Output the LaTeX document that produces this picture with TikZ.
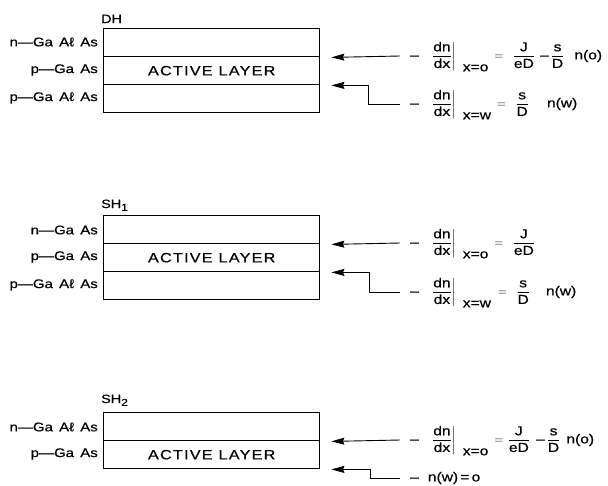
\documentclass[tikz,border=0pt]{standalone}
\usepackage{amsmath}
\usepackage{fontspec}
\setmainfont{Liberation Sans}
\newfontfamily\wide[FakeStretch=1.2,FakeBold=0.6]{Liberation Sans}
\newfontfamily\widelab[FakeStretch=1.2,FakeBold=0.6,WordSpace=1.5]{Liberation Sans}
\newfontfamily\widesp[FakeStretch=1.2,FakeBold=0.6,LetterSpace=9]{Liberation Sans}
\usetikzlibrary{arrows.meta,calc}
\newcommand\fr[2]{\genfrac{}{}{0.6pt}{0}{\mbox{#1\vphantom{dJ}}}{\mbox{#2\vphantom{dD}}}}
\newcommand\mn{\mbox{–}}
\newcommand\dndx[1]{\mn\hspace{10pt}\left.\fr{dn}{dx}\right|_{\hspace{7pt}\mbox{#1}}}
\begin{document}
\begin{tikzpicture}[x=1pt,y=-1pt,
  layer/.style={draw, line width=1.4pt, minimum width=216pt, minimum height=28pt, inner sep=0pt, anchor=north west},
  lab/.style={anchor=east, inner sep=0pt, font=\widelab\fontsize{12.5}{14}\selectfont},
  ttl/.style={anchor=base west, inner sep=0pt, font=\wide\fontsize{12}{14}\selectfont},
  act/.style={font=\widesp\fontsize{13.5}{15}\selectfont},
  eq/.style={anchor=base west, inner sep=0pt, font=\wide\fontsize{13}{15}\selectfont},
  arr/.style={-{Stealth[length=13pt,width=7pt,inset=1.5pt]}, line width=0.9pt}]
\useasboundingbox (0,0) rectangle (608,485);

% ---------- DH ----------
\node[ttl] (DHt) at (101,23) {DH};
\node[layer] (DHa) at (103,28) {};
\node[layer] (DHb) at (103,56) {};
\node[layer] (DHc) at (103,84) {};
\node[act] (DHact) at (DHb.center) {ACTIVE\hspace{6pt}LAYER};
\node[lab] (DHla) at (98,42) {n—Ga Aℓ As};
\node[lab] (DHlb) at (98,70) {p—Ga As};
\node[lab] (DHlc) at (98,98) {p—Ga Aℓ As};
\coordinate (DHt1) at ($(DHa.south east)+(11,0)$);
\coordinate (DHt2) at ($(DHb.south east)+(11,0)$);
\coordinate (DHs1) at (400,56);
\coordinate (DHs2) at (400,104);
\node[eq] (DHe1) at ($(DHs1)+(10,3.4)$) {$\dndx{x=o}\hspace{2pt}=\hspace{6pt}\fr{J}{eD}\hspace{5pt}\mn\hspace{2pt}\fr{s}{D}\hspace{10pt}\mbox{n(o)}$};
\node[eq] (DHe2) at ($(DHs2)+(10,3.4)$) {$\dndx{x=w}\hspace{2pt}=\hspace{6pt}\fr{s}{D}\hspace{18pt}\mbox{n(w)}$};
\draw[arr] (DHs1) -- (DHt1);
\draw[arr] (DHs2) -| ($(DHt2)+(37,0)$) -- (DHt2);

% ---------- SH1 ----------
\node[ttl] (S1t) at (101,208) {SH$_{\mbox{\fontsize{10}{11}\selectfont 1}}$};
\node[layer] (S1a) at (103,215) {};
\node[layer] (S1b) at (103,243) {};
\node[layer] (S1c) at (103,271) {};
\node[act] (S1act) at (S1b.center) {ACTIVE\hspace{6pt}LAYER};
\node[lab] (S1la) at (98,230) {n—Ga As};
\node[lab] (S1lb) at (98,257) {p—Ga As};
\node[lab] (S1lc) at (98,285) {p—Ga Aℓ As};
\coordinate (S1t1) at ($(S1a.south east)+(11,0)$);
\coordinate (S1t2) at ($(S1b.south east)+(11,0)$);
\coordinate (S1s1) at (400,243);
\coordinate (S1s2) at (400,292);
\node[eq] (S1e1) at ($(S1s1)+(10,3.4)$) {$\dndx{x=o}\hspace{2pt}=\hspace{6pt}\fr{J}{eD}$};
\node[eq] (S1e2) at ($(S1s2)+(10,3.4)$) {$\dndx{x=w}\hspace{3pt}=\hspace{6pt}\fr{s}{D}\hspace{16pt}\mbox{n(w)}$};
\draw[arr] (S1s1) -- (S1t1);
\draw[arr] (S1s2) -| ($(S1t2)+(38,0)$) -- (S1t2);

% ---------- SH2 ----------
\node[ttl] (S2t) at (101,403) {SH$_{\mbox{\fontsize{10}{11}\selectfont 2}}$};
\node[layer] (S2a) at (103,412) {};
\node[layer] (S2b) at (103,440) {};
\node[act] (S2act) at (S2b.center) {ACTIVE\hspace{6pt}LAYER};
\node[lab] (S2la) at (98,427) {n—Ga Aℓ As};
\node[lab] (S2lb) at (98,454) {p—Ga As};
\coordinate (S2t1) at ($(S2a.south east)+(11,0)$);
\coordinate (S2t2) at ($(S2b.south east)+(11,0)$);
\coordinate (S2s1) at (400,440);
\coordinate (S2s2) at (400,478);
\node[eq] (S2e1) at ($(S2s1)+(10,3.4)$) {$\dndx{x=o}\hspace{2pt}=\hspace{1pt}\fr{J}{eD}\hspace{6pt}\mn\hspace{2pt}\fr{s}{D}\hspace{6pt}\mbox{n(o)}$};
\node[eq] (S2e2) at ($(S2s2)+(10,3.4)$) {$\mn\hspace{9pt}\mbox{n(w)\,=\,o}$};
\draw[arr] (S2s1) -- (S2t1);
\draw[arr] (S2s2) -| ($(S2t2)+(39,0)$) -- (S2t2);
\end{tikzpicture}
\end{document}
